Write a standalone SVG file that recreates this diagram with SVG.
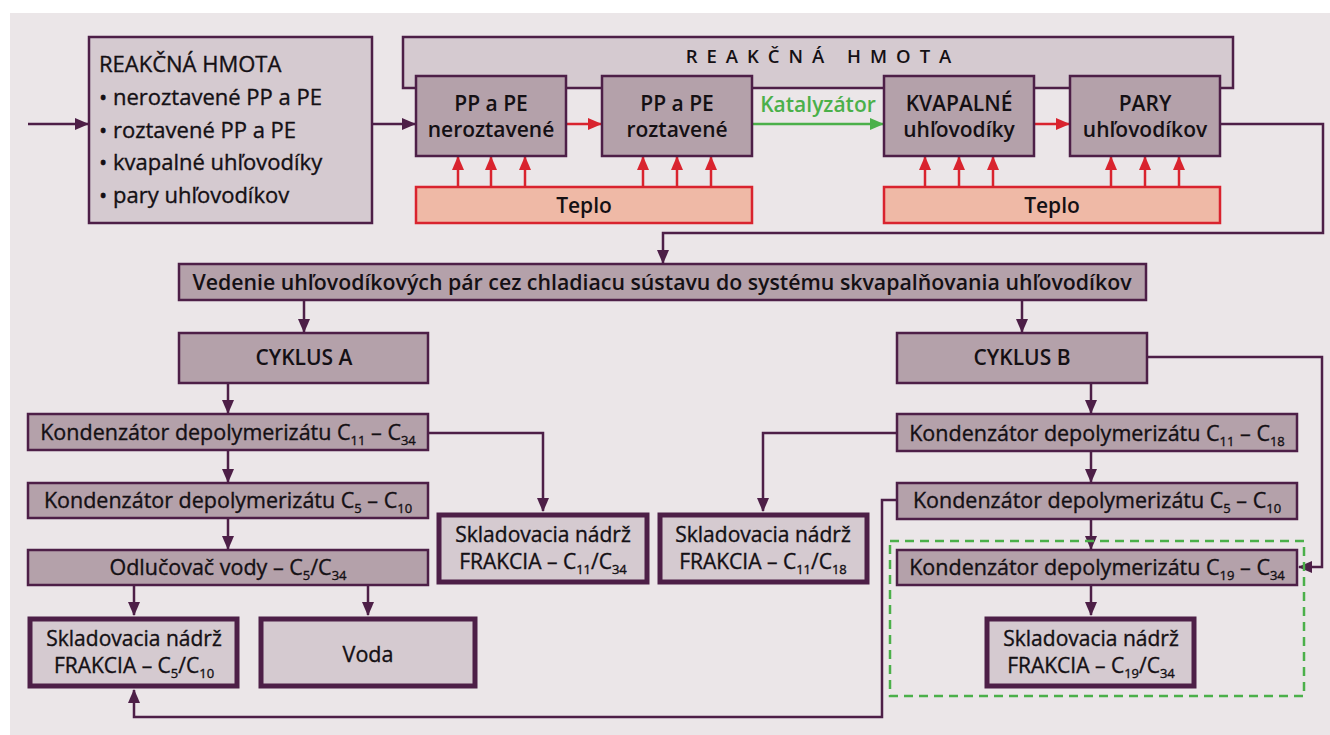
<svg xmlns="http://www.w3.org/2000/svg" width="1330" height="735" viewBox="0 0 1330 735">
  <style>
    text { font-family: "Open Sans", "Noto Sans", "Liberation Sans", sans-serif; fill: #141014; stroke: #141014; stroke-width: 0.35px; }
    .t { font-size: 21.5px; text-anchor: middle; }
    .b { font-size: 21px; font-weight: 600; stroke-width: 0; }
    .l { font-size: 22px; }
    .k { font-size: 21px; }
    .sub { font-size: 13px; }
    .banner { font-size: 18.5px; font-weight: 600; text-anchor: middle; letter-spacing: 9px; stroke-width: 0; }
    .green { font-size: 21px; font-weight: 600; text-anchor: middle; fill: #4bb04a; stroke-width: 0; }
    .dark { fill: #b4a1aa; stroke: #4d1f47; stroke-width: 2.5; }
    .light { fill: #d5cad0; stroke: #4d1f47; stroke-width: 2.5; }
    .tank { fill: #d5cad0; stroke: #4d1f47; stroke-width: 5; }
    .heat { fill: #efb9a6; stroke: #d9232e; stroke-width: 2.5; }
    .wire { fill: none; stroke: #4d1f47; stroke-width: 2.5; }
    .hot { fill: none; stroke: #d9232e; stroke-width: 2.5; }
    .cat { fill: none; stroke: #4bb04a; stroke-width: 2.5; }
    .zone { fill: none; stroke: #4bb04a; stroke-width: 2.5; stroke-dasharray: 9 6; }
  </style>
  <defs>
    <marker id="ah" markerUnits="userSpaceOnUse" markerWidth="14" markerHeight="14" viewBox="0 0 14 14" refX="13" refY="7" orient="auto">
      <path d="M0,1 L14,7 L0,13 Z" fill="#4d1f47"/>
    </marker>
    <marker id="ahr" markerUnits="userSpaceOnUse" markerWidth="14" markerHeight="14" viewBox="0 0 14 14" refX="13" refY="7" orient="auto">
      <path d="M0,1 L14,7 L0,13 Z" fill="#d9232e"/>
    </marker>
    <marker id="ahg" markerUnits="userSpaceOnUse" markerWidth="14" markerHeight="14" viewBox="0 0 14 14" refX="13" refY="7" orient="auto">
      <path d="M0,1 L14,7 L0,13 Z" fill="#4bb04a"/>
    </marker>
  </defs>

  <!-- panel -->
  <rect x="0" y="0" width="1330" height="735" fill="#ffffff"/>
  <rect x="10" y="13" width="1320" height="722" fill="#ebe6e8"/>

  <!-- reaction mass banner behind the stage boxes -->
  <g id="banner">
    <rect class="light" x="403" y="37" width="830" height="51"/>
    <text class="banner" x="823" y="63">REAKČNÁ HMOTA</text>
  </g>

  <!-- connectors -->
  <g id="connectors">
    <line class="wire" x1="28" y1="124" x2="88" y2="124" marker-end="url(#ah)"/>
    <line class="wire" x1="372" y1="124" x2="415" y2="124" marker-end="url(#ah)"/>
    <line class="hot" x1="566" y1="124" x2="601" y2="124" marker-end="url(#ahr)"/>
    <line class="cat" x1="752" y1="124" x2="883" y2="124" marker-end="url(#ahg)"/>
    <line class="hot" x1="1034" y1="124" x2="1069" y2="124" marker-end="url(#ahr)"/>

    <!-- heat arrows -->
    <g>
      <line class="hot" x1="458" y1="187" x2="458" y2="157" marker-end="url(#ahr)"/>
      <line class="hot" x1="491" y1="187" x2="491" y2="157" marker-end="url(#ahr)"/>
      <line class="hot" x1="525" y1="187" x2="525" y2="157" marker-end="url(#ahr)"/>
      <line class="hot" x1="643" y1="187" x2="643" y2="157" marker-end="url(#ahr)"/>
      <line class="hot" x1="677" y1="187" x2="677" y2="157" marker-end="url(#ahr)"/>
      <line class="hot" x1="711" y1="187" x2="711" y2="157" marker-end="url(#ahr)"/>
      <line class="hot" x1="925" y1="187" x2="925" y2="157" marker-end="url(#ahr)"/>
      <line class="hot" x1="959" y1="187" x2="959" y2="157" marker-end="url(#ahr)"/>
      <line class="hot" x1="993" y1="187" x2="993" y2="157" marker-end="url(#ahr)"/>
      <line class="hot" x1="1111" y1="187" x2="1111" y2="157" marker-end="url(#ahr)"/>
      <line class="hot" x1="1145" y1="187" x2="1145" y2="157" marker-end="url(#ahr)"/>
      <line class="hot" x1="1179" y1="187" x2="1179" y2="157" marker-end="url(#ahr)"/>
    </g>

    <polyline class="wire" points="1220,124 1323,124 1323,233 663,233 663,263" marker-end="url(#ah)"/>
    <line class="wire" x1="304" y1="300" x2="304" y2="332" marker-end="url(#ah)"/>
    <line class="wire" x1="1022" y1="300" x2="1022" y2="332" marker-end="url(#ah)"/>

    <!-- cycle A -->
    <line class="wire" x1="228" y1="383" x2="228" y2="413" marker-end="url(#ah)"/>
    <line class="wire" x1="228" y1="450" x2="228" y2="482" marker-end="url(#ah)"/>
    <line class="wire" x1="228" y1="518" x2="228" y2="549" marker-end="url(#ah)"/>
    <polyline class="wire" points="428,433 543,433 543,511" marker-end="url(#ah)"/>
    <line class="wire" x1="134" y1="585" x2="134" y2="615" marker-end="url(#ah)"/>
    <line class="wire" x1="368" y1="585" x2="368" y2="615" marker-end="url(#ah)"/>

    <!-- cycle B -->
    <line class="wire" x1="1091" y1="383" x2="1091" y2="413" marker-end="url(#ah)"/>
    <line class="wire" x1="1091" y1="451" x2="1091" y2="482" marker-end="url(#ah)"/>
    <line class="wire" x1="1091" y1="519" x2="1091" y2="549" marker-end="url(#ah)"/>
    <line class="wire" x1="1091" y1="585" x2="1091" y2="615" marker-end="url(#ah)"/>
    <polyline class="wire" points="897,433 763,433 763,511" marker-end="url(#ah)"/>
    <polyline class="wire" points="1147,357 1322,357 1322,567 1299,567" marker-end="url(#ah)"/>
    <polyline class="wire" points="897,500 882,500 882,717 134,717 134,690" marker-end="url(#ah)"/>
  </g>

  <!-- feed composition -->
  <g id="feed">
    <rect class="light" x="89" y="37" width="283" height="186"/>
    <text class="l" x="99" y="72">REAKČNÁ HMOTA</text>
    <text class="l" x="99" y="105">• neroztavené PP a PE</text>
    <text class="l" x="99" y="138">• roztavené PP a PE</text>
    <text class="l" x="99" y="170">• kvapalné uhľovodíky</text>
    <text class="l" x="99" y="203">• pary uhľovodíkov</text>
  </g>

  <g id="unmelted">
    <rect class="dark" x="416" y="76" width="150" height="80"/>
    <text class="t b" x="491" y="111">PP a PE</text>
    <text class="t b" x="491" y="137">neroztavené</text>
  </g>
  <g id="melted">
    <rect class="dark" x="602" y="76" width="150" height="80"/>
    <text class="t b" x="677" y="111">PP a PE</text>
    <text class="t b" x="677" y="137">roztavené</text>
  </g>
  <g id="catalyst">
    <text class="green" x="818" y="112">Katalyzátor</text>
  </g>
  <g id="liquid">
    <rect class="dark" x="884" y="76" width="150" height="80"/>
    <text class="t b" x="959" y="111">KVAPALNÉ</text>
    <text class="t b" x="959" y="137">uhľovodíky</text>
  </g>
  <g id="vapour">
    <rect class="dark" x="1070" y="76" width="150" height="80"/>
    <text class="t b" x="1145" y="111">PARY</text>
    <text class="t b" x="1145" y="137">uhľovodíkov</text>
  </g>

  <g id="heat1">
    <rect class="heat" x="416" y="187" width="336" height="36"/>
    <text class="t b" x="584" y="213">Teplo</text>
  </g>
  <g id="heat2">
    <rect class="heat" x="884" y="187" width="336" height="36"/>
    <text class="t b" x="1052" y="213">Teplo</text>
  </g>

  <g id="cooling">
    <rect class="dark" x="179" y="264" width="967" height="36"/>
    <text class="t b" x="662" y="290" style="font-size:21.3px">Vedenie uhľovodíkových pár cez chladiacu sústavu do systému skvapalňovania uhľovodíkov</text>
  </g>

  <!-- cycle A -->
  <g id="cycleA">
    <rect class="dark" x="179" y="333" width="249" height="50"/>
    <text class="t b" x="304" y="365">CYKLUS A</text>
  </g>
  <g id="condA1">
    <rect class="dark" x="28" y="414" width="400" height="36"/>
    <text class="t" x="228" y="440">Kondenzátor depolymerizátu C<tspan class="sub" dy="5">11</tspan><tspan dy="-5"> – C</tspan><tspan class="sub" dy="5">34</tspan></text>
  </g>
  <g id="condA2">
    <rect class="dark" x="28" y="483" width="400" height="35"/>
    <text class="t" x="228" y="508">Kondenzátor depolymerizátu C<tspan class="sub" dy="5">5</tspan><tspan dy="-5"> – C</tspan><tspan class="sub" dy="5">10</tspan></text>
  </g>
  <g id="separator">
    <rect class="dark" x="28" y="550" width="400" height="35"/>
    <text class="t" x="228" y="575">Odlučovač vody – C<tspan class="sub" dy="5">5</tspan><tspan dy="-5">/C</tspan><tspan class="sub" dy="5">34</tspan></text>
  </g>
  <g id="tankA1">
    <rect class="tank" x="439" y="515" width="208" height="67"/>
    <text class="t k" x="543" y="542">Skladovacia nádrž</text>
    <text class="t k" x="543" y="569">FRAKCIA – C<tspan class="sub" dy="5">11</tspan><tspan dy="-5">/C</tspan><tspan class="sub" dy="5">34</tspan></text>
  </g>
  <g id="tankA2">
    <rect class="tank" x="30" y="619" width="207" height="67"/>
    <text class="t k" x="134" y="646">Skladovacia nádrž</text>
    <text class="t k" x="134" y="673">FRAKCIA – C<tspan class="sub" dy="5">5</tspan><tspan dy="-5">/C</tspan><tspan class="sub" dy="5">10</tspan></text>
  </g>
  <g id="water">
    <rect class="tank" x="261" y="619" width="214" height="67"/>
    <text class="t" x="368" y="662">Voda</text>
  </g>

  <!-- cycle B -->
  <g id="cycleB">
    <rect class="dark" x="897" y="333" width="250" height="50"/>
    <text class="t b" x="1022" y="365">CYKLUS B</text>
  </g>
  <g id="condB1">
    <rect class="dark" x="897" y="414" width="400" height="37"/>
    <text class="t" x="1097" y="441">Kondenzátor depolymerizátu C<tspan class="sub" dy="5">11</tspan><tspan dy="-5"> – C</tspan><tspan class="sub" dy="5">18</tspan></text>
  </g>
  <g id="condB2">
    <rect class="dark" x="897" y="483" width="400" height="36"/>
    <text class="t" x="1097" y="508">Kondenzátor depolymerizátu C<tspan class="sub" dy="5">5</tspan><tspan dy="-5"> – C</tspan><tspan class="sub" dy="5">10</tspan></text>
  </g>
  <g id="tankB1">
    <rect class="tank" x="660" y="515" width="207" height="67"/>
    <text class="t k" x="763" y="542">Skladovacia nádrž</text>
    <text class="t k" x="763" y="569">FRAKCIA – C<tspan class="sub" dy="5">11</tspan><tspan dy="-5">/C</tspan><tspan class="sub" dy="5">18</tspan></text>
  </g>
  <g id="heavyZone">
    <rect class="zone" x="890" y="541" width="414" height="155"/>
  </g>
  <g id="condB3">
    <rect class="dark" x="897" y="550" width="400" height="35"/>
    <text class="t" x="1097" y="575">Kondenzátor depolymerizátu C<tspan class="sub" dy="5">19</tspan><tspan dy="-5"> – C</tspan><tspan class="sub" dy="5">34</tspan></text>
  </g>
  <g id="tankB2">
    <rect class="tank" x="987" y="619" width="207" height="67"/>
    <text class="t k" x="1091" y="646">Skladovacia nádrž</text>
    <text class="t k" x="1091" y="673">FRAKCIA – C<tspan class="sub" dy="5">19</tspan><tspan dy="-5">/C</tspan><tspan class="sub" dy="5">34</tspan></text>
  </g>
</svg>
